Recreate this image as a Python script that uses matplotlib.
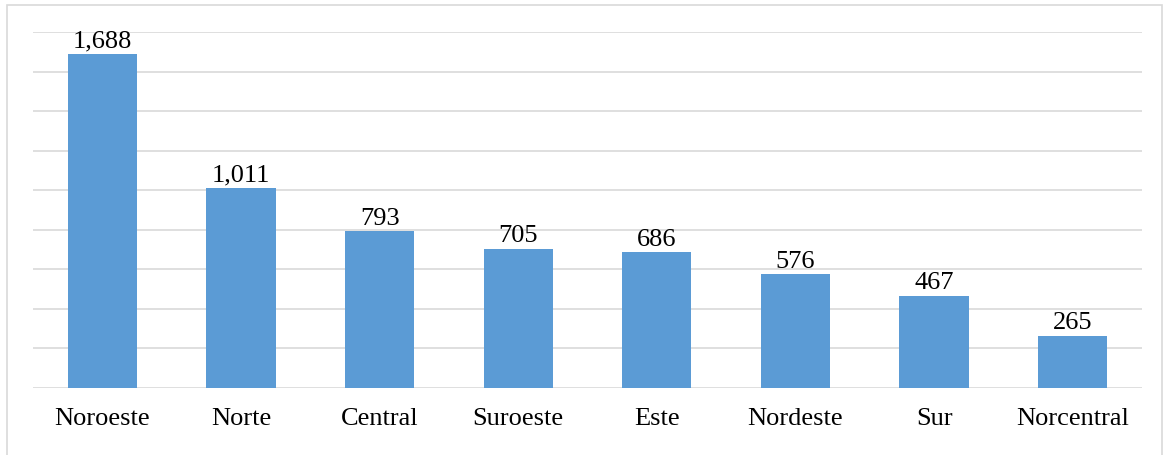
import matplotlib.pyplot as plt
from matplotlib.patches import Rectangle

# datos
regiones = ["Noroeste", "Norte", "Central", "Suroeste", "Este", "Nordeste", "Sur", "Norcentral"]
valores = [1688, 1011, 793, 705, 686, 576, 467, 265]
etiquetas = ["1,688", "1,011", "793", "705", "686", "576", "467", "265"]

plt.rcParams['font.family'] = ['Liberation Serif', 'DejaVu Serif']

fig = plt.figure(figsize=(11.69, 4.56), dpi=100)
ax = fig.add_axes([33/1169, 1 - 389/456, (1142 - 33)/1169, (389 - 33)/456])

x = range(len(regiones))
barras = ax.bar(x, valores, width=0.5, color="#5B9BD5", zorder=3)
for b, t in zip(barras, etiquetas):
    ax.text(b.get_x() + b.get_width()/2, b.get_height() + 12, t,
            ha="center", va="bottom", fontsize=19, color="#000000")

ax.set_xlim(-0.5, len(regiones) - 0.5)
ax.set_ylim(0, 1800)
ax.set_yticks(range(0, 1801, 200))
ax.yaxis.grid(True, color="#D9D9D9", linewidth=1.2, zorder=0)
ax.tick_params(axis="y", left=False, labelleft=False)
ax.tick_params(axis="x", length=0, pad=14, labelsize=19)
ax.set_xticks(list(x))
ax.set_xticklabels(regiones)
for s in ax.spines.values():
    s.set_visible(False)

# marco del gráfico
fig.patches.append(Rectangle((7/1169, -0.01), (1162 - 7)/1169, 1 - 6/456 + 0.01,
                             transform=fig.transFigure, fill=False,
                             edgecolor="#D9D9D9", linewidth=1.2))

fig.savefig("out.png", dpi=100)
